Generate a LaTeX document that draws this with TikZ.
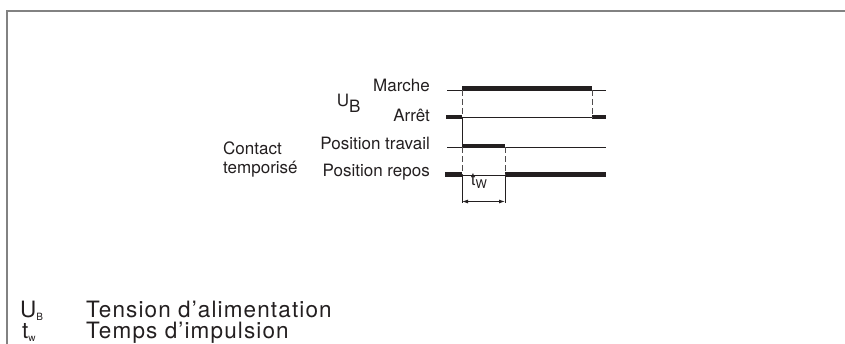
\documentclass[tikz,border=0pt]{standalone}
\usepackage{fontspec}
\setmainfont{TeX Gyre Heros}
\usepackage{xcolor}
\usepackage{tikz}
\usetikzlibrary{arrows.meta,positioning}
\definecolor{ink}{RGB}{35,31,32}
\definecolor{framegray}{RGB}{130,130,130}

\begin{document}
\begin{tikzpicture}[
    x=1pt, y=-1pt,
    level/.style={draw=ink, line width=0.9pt},
    active/.style={draw=ink, line width=4.5pt},
    guide/.style={draw=ink!80, line width=0.9pt, dash pattern=on 6pt off 3pt},
    edge/.style={draw=ink, line width=0.9pt},
    lbl/.style={anchor=base east, inner sep=0pt, text=ink, font=\fontsize{17}{20}\selectfont},
    side/.style={anchor=base west, inner sep=0pt, text=ink, font=\fontsize{17}{20}\selectfont},
    legend/.style={anchor=base west, inner sep=0pt, text=ink, font=\fontsize{22.5}{26}\selectfont\addfontfeatures{LetterSpace=5}}
]
    \useasboundingbox (0,0) rectangle (845,344);
    \draw[framegray, line width=2pt] (7,344) -- (7,11) -- (845,11);

    % Marche
    \coordinate (ma) at (447,90);
    \coordinate (mb) at (462,90);
    \coordinate (mc) at (592,90);
    \coordinate (md) at (606,90);
    % Arret
    \coordinate (aa) at (446,117.5);
    \coordinate (ab) at (462,117.5);
    \coordinate (ac) at (592,117.5);
    \coordinate (ad) at (606,117.5);
    % Position travail
    \coordinate (ta) at (447,147.5);
    \coordinate (tb) at (462,147.5);
    \coordinate (tc) at (505,147.5);
    \coordinate (td) at (606,147.5);
    % Position repos
    \coordinate (ra) at (445,175);
    \coordinate (rb) at (462,175);
    \coordinate (rc) at (505,175);
    \coordinate (rd) at (606,175);
    % t_w
    \coordinate (wa) at (462,203);
    \coordinate (wb) at (505,203);

    % U_B
    \draw[level] (ma) -- (md);
    \draw[active] ([yshift=1.5pt]mb) -- ([yshift=1.5pt]mc);
    \draw[level] (ab) -- (ad);
    \draw[active] ([yshift=0.5pt]aa) -- ([yshift=0.5pt]ab);
    \draw[active] ([yshift=0.5pt]ac) -- ([yshift=0.5pt]ad);

    % Contact temporise
    \draw[level] (ta) -- (td);
    \draw[active] ([yshift=1.5pt]tb) -- ([yshift=1.5pt]tc);
    \draw[level] (rb) -- (rc);
    \draw[active] ([yshift=0.5pt]ra) -- ([yshift=0.5pt]rb);
    \draw[active] ([yshift=0.5pt]rc) -- ([yshift=0.5pt]rd);

    % flanks
    \draw[guide] (mb) -- (ab);
    \draw[edge] (ab) -- (tb);
    \draw[guide] (tb) -- (rb);
    \draw[edge] (rb) -- (wa);
    \draw[guide] (mc) -- (ac);
    \draw[guide] (tc) -- (rc);
    \draw[edge] (rc) -- (wb);
    \draw[edge, {Latex[length=6pt,width=4pt]}-{Latex[length=6pt,width=4pt]}] ([yshift=1.5pt]wa) -- ([yshift=1.5pt]wb);
    \node[anchor=base, inner sep=0pt, text=ink, font=\fontsize{17}{20}\selectfont] (tw) at (479,186)
        {t{\fontsize{12}{12}\selectfont\raisebox{-2.5pt}{W}}};

    % labels
    \node[lbl] (marche) at (430,91.7) {Marche};
    \node[lbl] (arret) at (430,121.7) {Arrêt};
    \node[lbl] (travail) at (430,149.3) {Position travail};
    \node[lbl] (repos) at (430,176.7) {Position repos};
    \node[side] (ub) at (336.7,106.7) {U\raisebox{-6pt}{B}};
    \node[side] (contact) at (223,155) {Contact};
    \node[side] (tempo) at (223,173.3) {temporisé};

    % legend
    \node[legend] (lu) at (20,317) {U{\fontsize{10}{10}\selectfont\raisebox{-3.5pt}{B}}};
    \node[legend] (ltension) at (86,317) {Tension d’alimentation};
    \node[legend] (lt) at (22,338) {t{\fontsize{10}{10}\selectfont\raisebox{-3.5pt}{w}}};
    \node[legend] (limpuls) at (86,338) {Temps d’impulsion};
\end{tikzpicture}
\end{document}
